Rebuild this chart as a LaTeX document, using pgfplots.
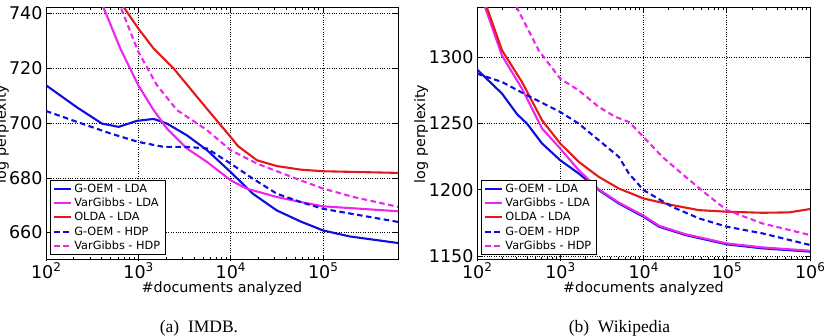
\documentclass[border=0pt]{standalone}
\usepackage{pgfplots}
\pgfplotsset{compat=1.18}
\usepackage{fontspec}
\setmainfont{DejaVu Sans}
\newfontfamily\capfont{Liberation Serif}

\definecolor{cblue}{rgb}{0.05,0.05,0.88}
\definecolor{cmag}{rgb}{0.93,0.15,0.93}
\definecolor{cred}{rgb}{0.9,0.1,0.1}

\newcommand{\pw}[1]{10\raisebox{0.42em}{\fontsize{12}{12}\selectfont #1}}

\pgfplotsset{
  perp/.style={
    scale only axis,
    anchor=south west,
    grid=major,
    major grid style={dotted, black, line width=0.6pt},
    tick align=inside,
    axis line style={line width=1pt, black},
    major tick length=5pt, minor tick length=2.5pt,
    every tick/.style={black, line width=0.6pt},
    tick label style={font=\fontsize{17.5}{19}\selectfont},
    /pgf/number format/assume math mode=true,
    /pgf/number format/1000 sep={},
    xticklabel style={yshift=1pt},
    xlabel={\#documents analyzed},
    ylabel={log perplexity},
    label style={font=\fontsize{14.3}{16}\selectfont},
    xlabel style={at={(axis description cs:0.5,-0.112)}, anchor=center},
    legend cell align=left,
    legend style={font=\fontsize{11.3}{13}\selectfont, anchor=south west,
      draw=black, line width=0.7pt, inner xsep=3pt, inner ysep=1.5pt,
      row sep=0.4pt},
    legend image code/.code={\draw[##1] (2pt,0pt) -- (19pt,0pt);},
    every axis plot/.append style={line width=2.1pt},
  },
  lhdp/.style={dash pattern=on 5.5pt off 3.5pt},
}

\begin{document}
\begin{tikzpicture}
\useasboundingbox (0pt,0pt) rectangle (824pt,336pt);

% IMDB
\begin{axis}[xmode=log, perp, at={(46pt,76pt)}, width=352pt, height=252pt,
  xmin=100, xmax=650000, ymin=650, ymax=742,
  xtick={100,1000,10000,100000},
  xticklabels={\pw{2},\pw{3},\pw{4},\pw{5}},
  ytick={660,680,700,720,740},
  ylabel style={at={(axis description cs:-0.125,0.5)}, anchor=center},
  legend style={at={(axis description cs:0.011,0.02)}},
]
\addplot[cblue] coordinates {
 (100,713.8) (217,705.7) (404,699.8) (612,698.6) (968,700.8) (1466,701.5)
 (2043,699.8) (3365,695.5) (5546,690.1) (10000,682.1) (17400,674.2)
 (31600,668.1) (56900,664.1) (100000,660.8) (195000,658.6) (650000,656.2)};
\addlegendentry{G-OEM - LDA}
\addplot[cmag] coordinates {
 (400,745) (422,742) (638,727.2) (1000,713.8) (1466,704.7) (2043,698.0)
 (3365,690.7) (5546,685.8) (10000,679.1) (14800,676.1) (31600,673.0)
 (56900,671.2) (100000,669.6) (650000,667.8)};
\addlegendentry{VarGibbs - LDA}
\addplot[cred] coordinates {
 (660,745) (705,742) (1000,734.5) (1466,727.2) (2415,719.9) (5320,705.9)
 (10000,694.9) (12000,691.6) (19300,686.4) (31600,684.3) (56900,683.0)
 (100000,682.4) (650000,681.8)};
\addlegendentry{OLDA - LDA}
\addplot[cblue, lhdp] coordinates {
 (100,704.4) (217,700.4) (498,696.2) (1000,693.1) (1880,691.3) (3365,691.3)
 (5546,690.7) (10000,685.2) (17400,679.7) (31600,674.2) (56900,671.2)
 (100000,668.7) (650000,663.9)};
\addlegendentry{G-OEM - HDP}
\addplot[cmag, lhdp] coordinates {
 (620,745) (649,742) (1000,726.0) (1592,713.8) (2625,704.7) (5546,697.4)
 (10000,690.1) (19300,685.2) (56900,679.1) (100000,676.1) (214000,673.0)
 (650000,669.4)};
\addlegendentry{VarGibbs - HDP}
\end{axis}

% Wikipedia
\begin{axis}[xmode=log, perp, at={(477pt,76pt)}, width=333pt, height=252pt,
  xmin=100, xmax=1000000, ymin=1147, ymax=1337,
  xtick={100,1000,10000,100000,1000000},
  xticklabels={\pw{2},\pw{3},\pw{4},\pw{5},\pw{6}},
  ytick={1150,1200,1250,1300},
  ylabel style={at={(axis description cs:-0.168,0.5)}, anchor=center},
  legend style={at={(axis description cs:0.012,0.02)}},
]
\addplot[cblue] coordinates {
 (100,1290.7) (200,1272.4) (303,1256.9) (399,1249.8) (605,1234.8)
 (1000,1222.2) (1668,1212.2) (2900,1199.7) (5050,1189.6) (10000,1179.6)
 (15400,1172.1) (32000,1165.8) (100000,1158.8) (267000,1155.8) (1000000,1153.3)};
\addlegendentry{G-OEM - LDA}
\addplot[cmag] coordinates {
 (120,1345) (126,1337) (200,1301) (347,1276.2) (605,1246.1) (1000,1231.0)
 (1668,1214.7) (2900,1200.3) (5050,1190.3) (10000,1180.4) (15400,1172.8)
 (32000,1166.4) (100000,1159.5) (267000,1156.5) (1000000,1154.0)};
\addlegendentry{VarGibbs - LDA}
\addplot[cred] coordinates {
 (126,1345) (132,1337) (200,1305) (347,1281.2) (605,1252.3) (1000,1234.8)
 (1668,1221.0) (2900,1209.7) (5050,1200.9) (10000,1193.4) (22100,1188.4)
 (46200,1184.6) (100000,1183.4) (267000,1182.6) (558000,1182.9) (1000000,1185.4)};
\addlegendentry{OLDA - LDA}
\addplot[cblue, lhdp] coordinates {
 (100,1287.5) (200,1281.2) (399,1271.2) (1000,1258.6) (1668,1249.8)
 (2900,1237.3) (5050,1224.8) (6670,1212.2) (10000,1199.7) (22100,1187.1)
 (46200,1178.4) (100000,1172.1) (267000,1167.1) (1000000,1158.3)};
\addlegendentry{G-OEM - HDP}
\addplot[cmag, lhdp] coordinates {
 (290,1345) (303,1337) (551,1305) (1000,1283.7) (1668,1274.9) (2900,1262.4)
 (4600,1254.9) (6670,1251.1) (10000,1239.8) (16800,1224.8) (32000,1209.7)
 (55600,1197.2) (100000,1184.6) (267000,1174.6) (1000000,1165.8)};
\addlegendentry{VarGibbs - HDP}
\end{axis}

\node[font=\capfont\fontsize{17.5}{20}\selectfont] at (199pt,8pt) {(a)\enspace IMDB.};
\node[font=\capfont\fontsize{17.5}{20}\selectfont] at (619.5pt,8pt) {(b)\enspace Wikipedia};
\end{tikzpicture}
\end{document}
